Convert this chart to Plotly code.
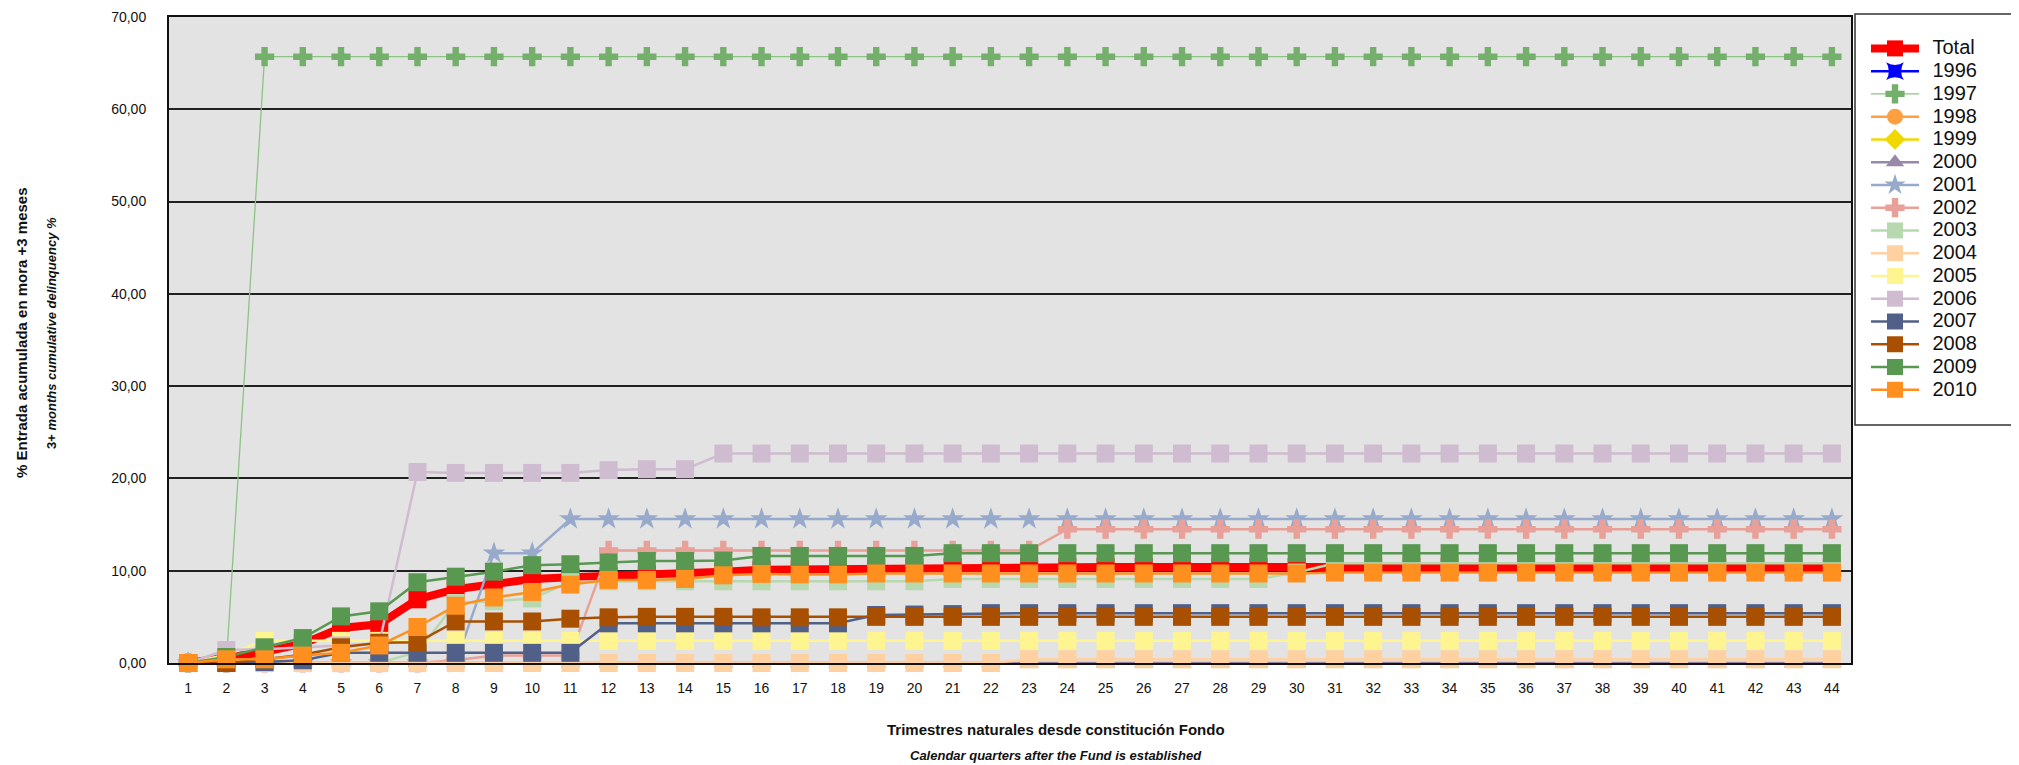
import plotly.graph_objects as go

quarters = list(range(1, 45))
tick_labels = [str(q) for q in quarters]

total = [0, 0.5, 1.2, 2.1, 3.8, 4.2, 6.9, 8.0, 8.6, 9.1, 9.3, 9.4, 9.6, 9.7, 9.9, 10.1, 10.15, 10.2, 10.3, 10.35] + [10.4] * 24
s1996 = [None] * 44
s1997 = [0, 0] + [65.7] * 42
s1998 = [None] * 44
s1999 = [None] * 44
s2000 = [0] * 44
s2001 = [0] * 8 + [11.9, 11.9] + [15.6] * 34
s2002 = [0, 0, 0, 0, 0, 0, 0, 0.3, 0.8, 0.8, 0.8] + [12.2] * 12 + [14.5] * 21
s2003 = [0, 0, 0, 0, 0, 0, 1.2, 6.5, 6.7, 7.0, 8.8] + [8.85] * 9 + [9.1] * 9 + [9.8] + [10.8] * 14
s2004 = [0] * 22 + [0.4] * 22
s2005 = [0, 0.9] + [2.4] * 42
s2006 = [0, 1.4, 1.5, 1.7, 1.9, 2.1, 20.7, 20.6, 20.6, 20.6, 20.6, 20.9, 21.0, 21.0] + [22.7] * 30
s2007 = [0, 0, 0.1, 0.3, 1.1, 1.1, 1.1, 1.1, 1.1, 1.1, 1.1, 4.3, 4.3, 4.3, 4.3, 4.3, 4.3, 4.3, 5.2, 5.25, 5.3] + [5.4] * 23
s2008 = [0, 0, 0.4, 0.9, 1.7, 2.2, 2.25, 4.5, 4.5, 4.5, 4.8, 4.95, 5.0, 5.0, 5.0, 4.95, 4.95, 4.95] + [5.0] * 26
s2009 = [0, 0.65, 1.7, 2.7, 5.05, 5.6, 8.75, 9.35, 9.9, 10.6, 10.7, 10.9, 11.05, 11.05, 11.1, 11.6, 11.6, 11.6, 11.6, 11.6] + [11.9] * 24
s2010 = [0, 0.4, 0.4, 0.8, 1.1, 1.9, 3.9, 6.2, 7.1, 7.7, 8.5, 9.0, 9.0, 9.1, 9.5, 9.65, 9.6, 9.6, 9.7, 9.7] + [9.7] * 10 + [9.8] * 14

series = [
    ("Total", total, "#ff0000", "#ff0000", "square", 18, 8),
    ("1996", s1996, "#0000ff", "#0000ff", "star-square", 17, 2.5),
    ("1997", s1997, "#8cc484", "#74b06c", "cross", 16, 1.3),
    ("1998", s1998, "#ffa040", "#ffa040", "circle", 17, 2.5),
    ("1999", s1999, "#f0d800", "#f0d800", "diamond", 17, 2.5),
    ("2000", s2000, "#9a88a8", "#9a88a8", "triangle-up", 17, 2.5),
    ("2001", s2001, "#98aacc", "#98aacc", "star", 17, 2.5),
    ("2002", s2002, "#e8a098", "#e8a098", "cross", 16, 2.5),
    ("2003", s2003, "#b8d8b0", "#b8d8b0", "square", 18, 2.5),
    ("2004", s2004, "#ffd0a0", "#ffd0a0", "square", 18, 2.5),
    ("2005", s2005, "#fff590", "#fff590", "square", 18, 2.5),
    ("2006", s2006, "#d0bcd0", "#d0bcd0", "square", 18, 2.5),
    ("2007", s2007, "#506088", "#506088", "square", 18, 2.5),
    ("2008", s2008, "#a85000", "#a85000", "square", 18, 2.5),
    ("2009", s2009, "#589850", "#589850", "square", 18, 2.5),
    ("2010", s2010, "#ff9020", "#ff9020", "square", 18, 2.5),
]

def legend_label(name):
    return '\u00a0\u00a0<span style="font-size:20px">' + name + '</span>'

fig = go.Figure()
for name, vals, lcol, mcol, sym, msize, lw in series:
    fig.add_trace(go.Scatter(
        x=quarters, y=vals, name=legend_label(name), mode="lines+markers",
        line=dict(color=lcol, width=lw),
        marker=dict(symbol=sym, size=msize, color=mcol, line=dict(width=0)),
        cliponaxis=False,
    ))

# page has an 8px body margin; work in page pixels and convert
OFF = 8
W, H = 2019 - OFF, 765 - OFF
PL, PR, PT, PB = 169, 1851, 17, 663          # plot area in page pixels
L, T = PL - OFF, PT - OFF
R, B = W - (PR - OFF), H - (PB - OFF)
pw, ph = W - L - R, H - T - B

def px(xpage):
    return (xpage - OFF - L) / pw

def py(ypage):
    return (H - B - (ypage - OFF)) / ph

fig.update_layout(
    width=W, height=H,
    margin=dict(l=L, r=R, t=T, b=B, autoexpand=False),
    paper_bgcolor="white", plot_bgcolor="#e3e3e3",
    separators=",.",
    font=dict(family="Liberation Sans, Arial, sans-serif", color="#111111"),
    showlegend=True,
    legend=dict(
        x=px(1866), y=py(32), xanchor="left", yanchor="top",
        font=dict(size=15.2, color="#111111"),
        bgcolor="rgba(0,0,0,0)", itemwidth=48, tracegroupgap=0,
    ),
    shapes=[dict(type="rect", xref="paper", yref="paper",
                 x0=px(1855), x1=px(2016), y0=py(425), y1=py(14),
                 line=dict(color="#333333", width=1.5), fillcolor="white", layer="below")],
    xaxis=dict(
        range=[0.5, 44.5], tickmode="array", tickvals=quarters, ticktext=tick_labels,
        showgrid=False, zeroline=False, showline=True, linecolor="#111111", linewidth=2,
        mirror=True, ticks="", tickfont=dict(size=14, color="#111111"),
        ticklabelstandoff=11, automargin=False,
    ),
    yaxis=dict(
        range=[0, 70], dtick=10, tickformat=".2f", showgrid=True, gridcolor="#222222",
        gridwidth=1.5, zeroline=False, showline=True, linecolor="#111111", linewidth=2,
        mirror=True, ticks="", tickfont=dict(size=14, color="#111111"),
        ticklabelstandoff=18, ticklabeloverflow="allow", automargin=False,
    ),
    annotations=[
        dict(text="<b>% Entrada acumulada en mora +3 meses</b>", xref="paper", yref="paper",
             x=px(21), y=py(333), xanchor="center", yanchor="middle",
             textangle=-90, showarrow=False, font=dict(size=15)),
        dict(text="<b>3+ <i>months cumulative delinquency %</i></b>", xref="paper", yref="paper",
             x=px(51), y=py(333), xanchor="center", yanchor="middle",
             textangle=-90, showarrow=False, font=dict(size=13)),
        dict(text="<b>Trimestres naturales desde constitución Fondo</b>", xref="paper", yref="paper",
             x=px(1056), y=py(729), xanchor="center", yanchor="middle",
             showarrow=False, font=dict(size=15)),
        dict(text="<b><i>Calendar quarters after the Fund is established</i></b>", xref="paper", yref="paper",
             x=px(1056), y=py(756), xanchor="center", yanchor="middle",
             showarrow=False, font=dict(size=13)),
    ],
)

fig.write_html("out.html")
